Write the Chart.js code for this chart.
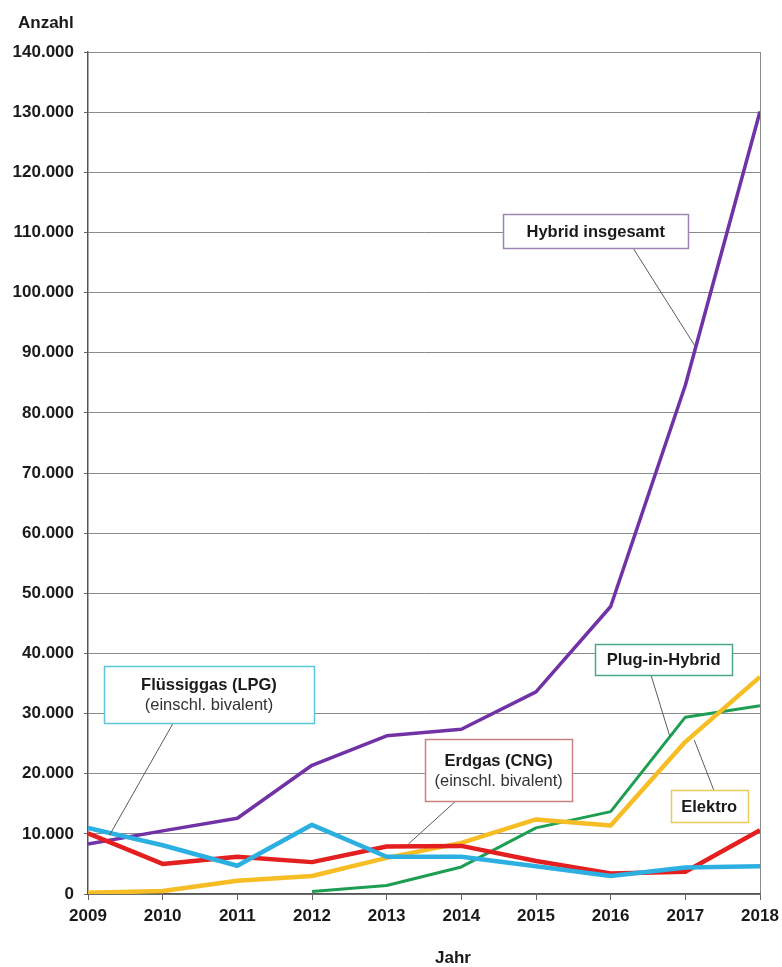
<!DOCTYPE html>
<html>
<head>
<meta charset="utf-8">
<script src="https://cdn.jsdelivr.net/npm/chart.js@4"></script>
<style>
  html, body { margin: 0; padding: 0; background: #fff; }
  #wrap { width: 782px; height: 967px; }
</style>
</head>
<body>
<div id="wrap"><canvas id="chart" width="782" height="967"></canvas></div>
<script>
// ==== Data ====
const years = [2009, 2010, 2011, 2012, 2013, 2014, 2015, 2016, 2017, 2018];
const hybridTotal = [8300, 10500, 12600, 21400, 26300, 27400, 33600, 47800, 84600, 130100];
const plugInHybrid = [null, null, null, 400, 1400, 4500, 11000, 13700, 29400, 31300];
const elektro = [200, 500, 2200, 3000, 6000, 8500, 12400, 11400, 25300, 36100];
const erdgas = [10100, 5000, 6200, 5300, 7900, 8000, 5500, 3400, 3700, 10600];
const fluessiggas = [11000, 8100, 4700, 11500, 6200, 6200, 4600, 3000, 4400, 4600];

const yMax = 140000;
const yStep = 10000;

const FONT = "'Liberation Sans', Arial, sans-serif";

function toPoints(values) {
  return years.map((y, i) => ({ x: y, y: values[i] }));
}

// ==== Callout boxes (anchor in data units) ====
const notes = [
  { title: "Hybrid insgesamt", at: [2015.80, 110200], w: 185, h: 34, border: "#9a86b0",
    from: [2016.30, 107400], to: [2017.13, 91100] },
  { title: "Flüssiggas (LPG)", sub: "(einschl. bivalent)", at: [2010.62, 33200], w: 210, h: 57, border: "#5cc6d8",
    from: [2010.14, 28400], to: [2009.29, 9800] },
  { title: "Erdgas (CNG)", sub: "(einschl. bivalent)", at: [2014.50, 20600], w: 147, h: 62, border: "#c98080",
    from: [2013.93, 15500], to: [2013.29, 8300] },
  { title: "Plug-in-Hybrid", at: [2016.71, 39000], w: 137, h: 31, border: "#4aa886",
    from: [2016.54, 36400], to: [2016.79, 26300] },
  { title: "Elektro", at: [2017.32, 14600], w: 77, h: 32, border: "#ecc95a",
    from: [2017.38, 17300], to: [2017.12, 25600] }
];

const calloutPlugin = {
  id: "callouts",
  afterDatasetsDraw(chart) {
    const ctx = chart.ctx;
    const xs = chart.scales.x, ys = chart.scales.y;
    ctx.save();
    notes.forEach(n => {
      // leader line
      ctx.strokeStyle = "#5a5a5a";
      ctx.lineWidth = 1;
      ctx.beginPath();
      ctx.moveTo(xs.getPixelForValue(n.from[0]), ys.getPixelForValue(n.from[1]));
      ctx.lineTo(xs.getPixelForValue(n.to[0]), ys.getPixelForValue(n.to[1]));
      ctx.stroke();

      const cx = xs.getPixelForValue(n.at[0]);
      const cy = ys.getPixelForValue(n.at[1]);
      const x0 = Math.round(cx - n.w / 2) + 0.5;
      const y0 = Math.round(cy - n.h / 2) + 0.5;
      ctx.fillStyle = "#fff";
      ctx.fillRect(x0, y0, n.w, n.h);
      ctx.strokeStyle = n.border;
      ctx.lineWidth = 1.5;
      ctx.strokeRect(x0, y0, n.w, n.h);

      ctx.textAlign = "center";
      ctx.textBaseline = "middle";
      ctx.fillStyle = "#1a1a1a";
      ctx.font = "bold 16.5px " + FONT;
      if (n.sub) {
        ctx.fillText(n.title, cx, cy - 9);
        ctx.font = "16.5px " + FONT;
        ctx.fillStyle = "#333";
        ctx.fillText(n.sub, cx, cy + 11);
      } else {
        ctx.fillText(n.title, cx, cy + 1);
      }
    });

    // axis titles
    ctx.fillStyle = "#1a1a1a";
    ctx.font = "bold 17px " + FONT;
    ctx.textAlign = "left";
    ctx.textBaseline = "middle";
    ctx.fillText("Anzahl", 18, 23);
    ctx.textAlign = "center";
    ctx.fillText("Jahr", 453, 958);
    ctx.restore();
  }
};

function series(label, values, color, width, order) {
  return {
    label: label,
    data: toPoints(values),
    borderColor: color,
    backgroundColor: color,
    borderWidth: width,
    pointRadius: 0,
    tension: 0,
    spanGaps: false,
    borderJoinStyle: "round",
    order: order
  };
}

new Chart(document.getElementById("chart").getContext("2d"), {
  type: "line",
  data: {
    datasets: [
      series("Flüssiggas (LPG)", fluessiggas, "#2cb0e2", 4.5, 1),
      series("Erdgas (CNG)", erdgas, "#e41f1f", 4.5, 2),
      series("Elektro", elektro, "#f6bd24", 4.5, 3),
      series("Plug-in-Hybrid", plugInHybrid, "#1d9e52", 3, 4),
      series("Hybrid insgesamt", hybridTotal, "#7132a6", 3.5, 5)
    ]
  },
  options: {
    responsive: false,
    animation: false,
    layout: { padding: { left: 0, right: 22, top: 52, bottom: 0 } },
    plugins: {
      legend: { display: false },
      tooltip: { enabled: false }
    },
    scales: {
      x: {
        type: "linear",
        min: years[0],
        max: years[years.length - 1],
        afterFit(scale) {
          scale.height = 73;
          scale.paddingLeft = 0;
          scale.paddingRight = 0;
        },
        ticks: {
          stepSize: 1,
          padding: 6,
          color: "#1a1a1a",
          font: { family: FONT, size: 17, weight: "bold" },
          callback: v => String(v)
        },
        grid: {
          color: ctx => (ctx.index === years.length - 1 ? "#8a8a8a" : "rgba(0,0,0,0)"),
          tickColor: "#666",
          tickLength: 6,
          lineWidth: 1
        },
        border: { color: "#555", width: 1.5 }
      },
      y: {
        min: 0,
        max: yMax,
        afterFit(scale) { scale.width = 88; },
        ticks: {
          stepSize: yStep,
          padding: 10,
          color: "#1a1a1a",
          font: { family: FONT, size: 17, weight: "bold" },
          callback: v => v.toLocaleString("de-DE")
        },
        grid: {
          color: "#8a8a8a",
          tickColor: "#666",
          tickLength: 4,
          lineWidth: 1
        },
        border: { color: "#555", width: 1.5 }
      }
    }
  },
  plugins: [calloutPlugin]
});
</script>
</body>
</html>
